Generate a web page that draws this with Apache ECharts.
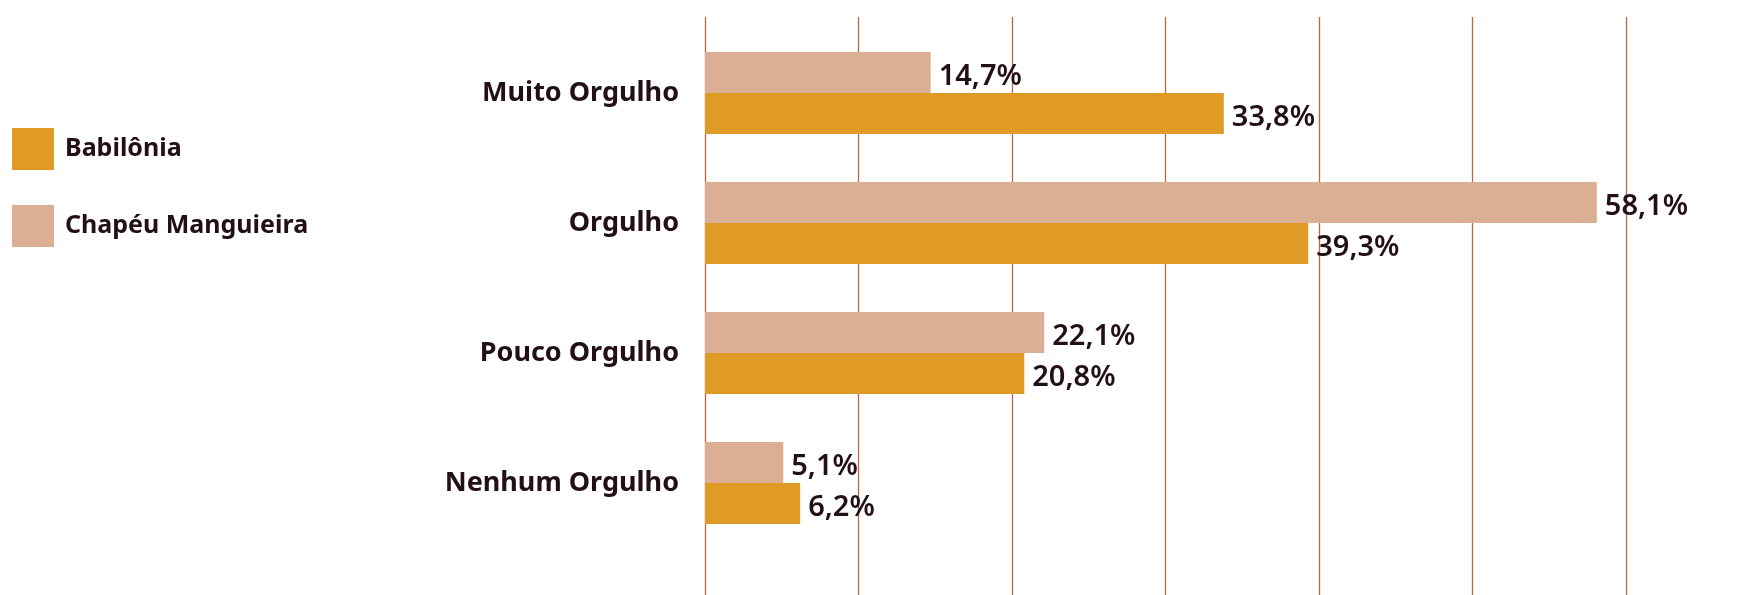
<!DOCTYPE html>
<html>
<head>
<meta charset="utf-8">
<script src="https://cdn.jsdelivr.net/npm/echarts@6/dist/echarts.min.js"></script>
<style>
  html, body { margin: 0; padding: 0; background: #fff; }
  #chart { width: 1762px; height: 595px; }
</style>
</head>
<body>
<div id="chart"></div>
<script>
// dados
const categorias = ['Muito Orgulho', 'Orgulho', 'Pouco Orgulho', 'Nenhum Orgulho']
const babilonia = [33.8, 39.3, 20.8, 6.2]
const chapeu = [14.7, 58.1, 22.1, 5.1]
const nomes = ['Babilônia', 'Chapéu Manguieira']
const cores = ['#E09B27', '#DBAF93']

const corTexto = '#231016'
const corLinha = '#B8693D'
const fonte = '"Noto Sans", sans-serif'

const chart = echarts.init(document.getElementById('chart'))

const rotulo = {
  show: true,
  position: 'right',
  distance: 8,
  offset: [0, 4],
  color: corTexto,
  fontFamily: fonte,
  fontSize: 29,
  fontWeight: 600,
  formatter: p => p.value.toFixed(1).replace('.', ',') + '%'
}

chart.setOption({
  animation: false,
  legend: {
    data: nomes,
    orient: 'vertical',
    left: 12,
    top: 128,
    padding: 0,
    itemWidth: 42,
    itemHeight: 42,
    itemGap: 35,
    icon: 'rect',
    textStyle: {
      color: corTexto,
      fontFamily: fonte,
      fontSize: 25,
      fontWeight: 'bold',
      padding: [0, 0, 0, 6]
    }
  },
  grid: [
    { left: 705, right: 136, top: 28, height: 520 },
    { left: 705, right: 136, top: 17, bottom: 0 }
  ],
  xAxis: [
    {
      gridIndex: 0, type: 'value', min: 0, max: 60, interval: 10,
      axisLine: { show: false }, axisTick: { show: false },
      axisLabel: { show: false }, splitLine: { show: false }
    },
    {
      gridIndex: 1, type: 'value', min: 0, max: 60, interval: 10,
      axisLine: { show: false }, axisTick: { show: false },
      axisLabel: { show: false },
      splitLine: { show: true, lineStyle: { color: corLinha, width: 1.3 } }
    }
  ],
  yAxis: [
    {
      gridIndex: 0, type: 'category', data: categorias, inverse: true,
      axisLine: { show: false }, axisTick: { show: false },
      axisLabel: {
        color: corTexto, fontFamily: fonte, fontSize: 27,
        fontWeight: 'bold', margin: 26, padding: [8, 0, 0, 0]
      }
    },
    {
      gridIndex: 1, type: 'value', show: false
    }
  ],
  series: [
    {
      name: nomes[1], type: 'bar', data: chapeu,
      xAxisIndex: 0, yAxisIndex: 0,
      barWidth: 41, barGap: '0%', z: 3,
      itemStyle: { color: cores[1] },
      label: rotulo
    },
    {
      name: nomes[0], type: 'bar', data: babilonia,
      xAxisIndex: 0, yAxisIndex: 0,
      barWidth: 41, barGap: '0%', z: 3,
      itemStyle: { color: cores[0] },
      label: rotulo
    }
  ]
})
</script>
</body>
</html>
